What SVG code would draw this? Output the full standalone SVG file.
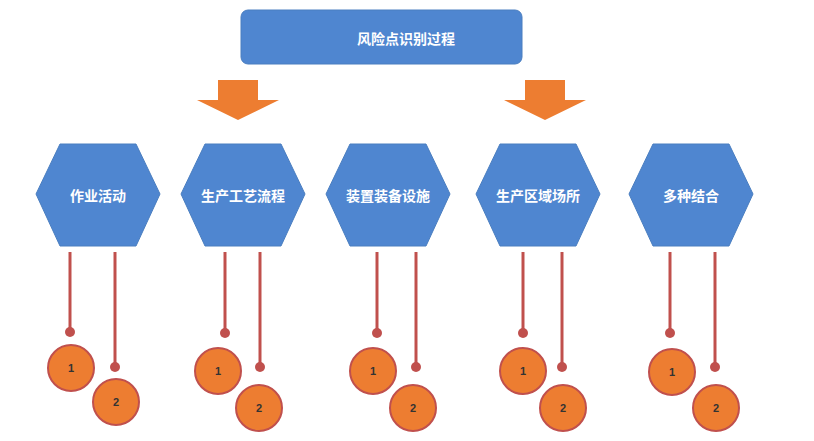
<svg xmlns="http://www.w3.org/2000/svg" width="814" height="441" viewBox="0 0 814 441">
<style>
.t{font-family:"Noto Sans CJK SC","Liberation Sans",sans-serif;font-weight:bold;fill:#fff;font-size:14px;text-anchor:middle;dominant-baseline:central}
.hex{fill:#4F86D0;stroke:#4A7EC0;stroke-width:1}
.ln{stroke:#C0504D;stroke-width:3}
.dot{fill:#C0504D}
.c{fill:#ED7D31;stroke:#C0504D;stroke-width:2}
.n{font-family:"Liberation Sans",sans-serif;font-weight:bold;font-size:11px;fill:#333;text-anchor:middle;dominant-baseline:central}
.arr{fill:#ED7D31}
</style>
<defs>
<polygon id="hx" class="hex" points="-62,0 -38,-50 38,-50 62,0 38,52 -38,52"/>
<polygon id="ar" class="arr" points="-20,-40 20,-40 20,-20 41,-20 0,0 -41,-20 -20,-20"/>
</defs>
<g id="top"><rect x="241" y="10" width="281" height="54" rx="7" fill="#4F86D0" stroke="#4A7EC0"/><text class="t" x="406" y="38">风险点识别过程</text></g>
<g id="arrows"><use href="#ar" x="238" y="120"/><use href="#ar" x="545" y="120"/></g>
<g id="n1"><use href="#hx" x="98" y="194"/><text class="t" x="98" y="195">作业活动</text></g>
<g id="n2"><use href="#hx" x="243" y="194"/><text class="t" x="243" y="195">生产工艺流程</text></g>
<g id="n3"><use href="#hx" x="388" y="194"/><text class="t" x="388" y="195">装置装备设施</text></g>
<g id="n4"><use href="#hx" x="538" y="194"/><text class="t" x="538" y="195">生产区域场所</text></g>
<g id="n5"><use href="#hx" x="691" y="194"/><text class="t" x="691" y="195">多种结合</text></g>
<g id="connectors">
<line class="ln" x1="70" y1="252" x2="70" y2="332"/><circle class="dot" cx="70" cy="332" r="5"/>
<line class="ln" x1="115" y1="252" x2="115" y2="367"/><circle class="dot" cx="115" cy="367" r="5"/>
<line class="ln" x1="225" y1="252" x2="225" y2="333"/><circle class="dot" cx="225" cy="333" r="5"/>
<line class="ln" x1="260" y1="252" x2="260" y2="367"/><circle class="dot" cx="260" cy="367" r="5"/>
<line class="ln" x1="377" y1="252" x2="377" y2="333"/><circle class="dot" cx="377" cy="333" r="5"/>
<line class="ln" x1="416" y1="252" x2="416" y2="367"/><circle class="dot" cx="416" cy="367" r="5"/>
<line class="ln" x1="523" y1="252" x2="523" y2="333"/><circle class="dot" cx="523" cy="333" r="5"/>
<line class="ln" x1="562" y1="252" x2="562" y2="367"/><circle class="dot" cx="562" cy="367" r="5"/>
<line class="ln" x1="670" y1="252" x2="670" y2="333"/><circle class="dot" cx="670" cy="333" r="5"/>
<line class="ln" x1="715" y1="252" x2="715" y2="367"/><circle class="dot" cx="715" cy="367" r="5"/>
</g>
<g id="c1a"><circle class="c" cx="71" cy="368" r="23"/><text class="n" x="71" y="368">1</text></g>
<g id="c1b"><circle class="c" cx="116" cy="402" r="23"/><text class="n" x="116" y="402">2</text></g>
<g id="c2a"><circle class="c" cx="218" cy="371" r="23"/><text class="n" x="218" y="371">1</text></g>
<g id="c2b"><circle class="c" cx="259" cy="408" r="23"/><text class="n" x="259" y="408">2</text></g>
<g id="c3a"><circle class="c" cx="373" cy="371" r="23"/><text class="n" x="373" y="371">1</text></g>
<g id="c3b"><circle class="c" cx="413" cy="408" r="23"/><text class="n" x="413" y="408">2</text></g>
<g id="c4a"><circle class="c" cx="523" cy="371" r="23"/><text class="n" x="523" y="371">1</text></g>
<g id="c4b"><circle class="c" cx="563" cy="408" r="23"/><text class="n" x="563" y="408">2</text></g>
<g id="c5a"><circle class="c" cx="672" cy="372" r="23"/><text class="n" x="672" y="372">1</text></g>
<g id="c5b"><circle class="c" cx="716" cy="408" r="23"/><text class="n" x="716" y="408">2</text></g>
</svg>
